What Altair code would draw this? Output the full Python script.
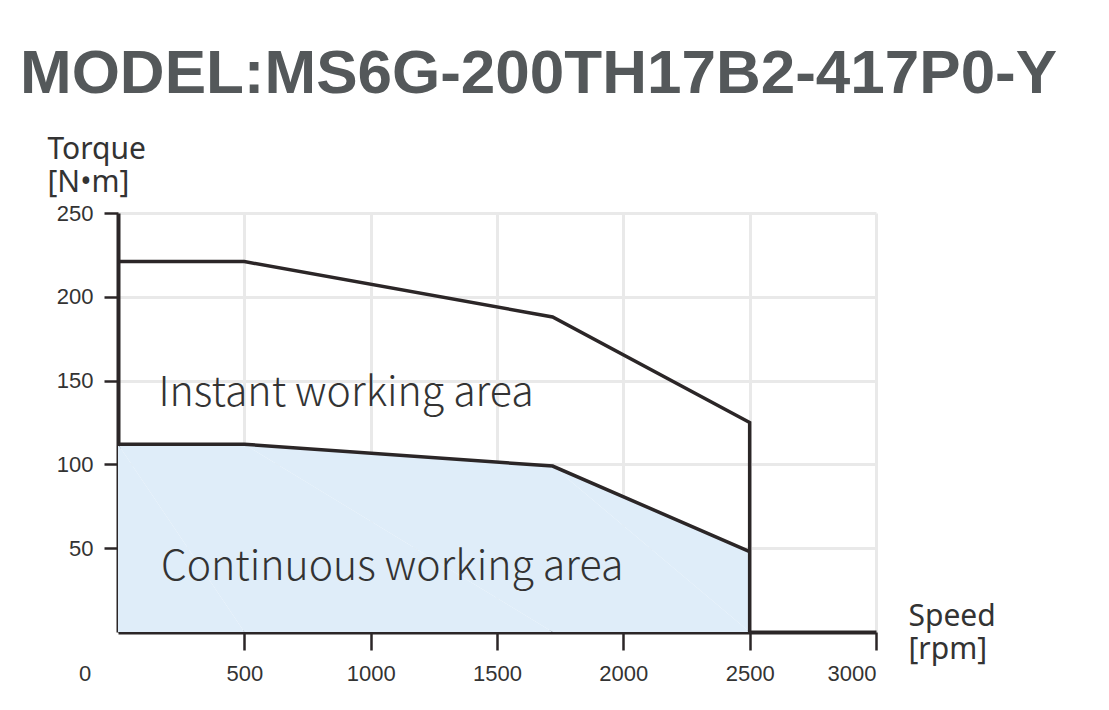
import altair as alt
import pandas as pd

# torque / speed curve
speed_instant = [0, 500, 1720, 2500, 2500]
torque_instant = [221, 221, 188, 125, 0]

speed_cont = [0, 500, 1720, 2500]
torque_cont = [112, 112, 99, 48]

area_labels = ["Instant working area", "Continuous working area"]
area_speed = [160, 170]
area_torque = [135, 31]

x_ticks = [500, 1000, 1500, 2000, 2500, 3000]
y_ticks = [50, 100, 150, 200, 250]

DARK = "#2b2627"
TXT = "#333333"

instant = pd.DataFrame({"speed": speed_instant, "torque": torque_instant, "order": range(5)})
cont = pd.DataFrame({"speed": speed_cont, "torque": torque_cont, "order": range(4)})
labels = pd.DataFrame({"label": area_labels, "speed": area_speed, "torque": area_torque})
zero = pd.DataFrame({"speed": [0], "torque": [0], "label": ["0"]})

x = alt.X("speed:Q", scale=alt.Scale(domain=[0, 3000], nice=False),
          axis=alt.Axis(values=x_ticks, format="d", title=["Speed", "[rpm]"], titleAngle=0,
                        titleAlign="left", titleBaseline="alphabetic",
                        titleX=790, titleY=-7, titleLineHeight=33,
                        titleFont="Noto Sans", titleFontSize=30,
                        titleFontWeight="normal", titleColor=TXT,
                        tickSize=18, labelPadding=13))
y = alt.Y("torque:Q", scale=alt.Scale(domain=[0, 250], nice=False),
          axis=alt.Axis(values=y_ticks, title=["Torque", "[N•m]"], titleAngle=0,
                        titleAlign="left", titleBaseline="alphabetic",
                        titleX=-71, titleY=-55, titleLineHeight=33,
                        titleFont="Noto Sans", titleFontSize=30,
                        titleFontWeight="normal", titleColor=TXT,
                        tickSize=14, labelPadding=11))

fill = alt.Chart(cont).mark_area(color="#dfedf9", opacity=1).encode(x=x, y=y, order="order:O")
cont_line = alt.Chart(cont).mark_line(color=DARK, strokeWidth=3.5).encode(x=x, y=y, order="order:O")
inst_line = alt.Chart(instant).mark_line(color=DARK, strokeWidth=3.5).encode(x=x, y=y, order="order:O")

text = alt.Chart(labels).mark_text(
    align="left", baseline="alphabetic", font="Noto Sans CJK SC", fontWeight=300,
    fontSize=41, color=TXT
).encode(x=x, y=y, text="label:N")

zero_label = alt.Chart(zero).mark_text(
    align="center", baseline="top", dx=-33, dy=32, font="Liberation Sans",
    fontSize=22, color=TXT
).encode(x=x, y=y, text="label:N")

chart = (
    alt.layer(fill, cont_line, inst_line, text, zero_label)
    .properties(
        width=758, height=419,
        padding={"left": 110, "top": 205, "right": 220, "bottom": 70},
        autosize=alt.AutoSizeParams(type="none"),
        title=alt.Title("MODEL:MS6G-200TH17B2-417P0-Y", anchor="start", frame="group",
                        dx=-98, offset=-21, font="Liberation Sans", fontSize=62,
                        fontWeight="bold", color="#54585a", baseline="alphabetic"),
    )
    .configure_view(stroke=None)
    .configure_axis(
        grid=True, gridColor="#e9e9e9", gridWidth=3,
        domainColor=DARK, domainWidth=4, tickColor=DARK, tickWidth=2.5,
        labelFont="Liberation Sans", labelFontSize=22, labelColor=TXT,
    )
)

chart.save("out.html", embed_options={"renderer": "svg", "actions": False})
